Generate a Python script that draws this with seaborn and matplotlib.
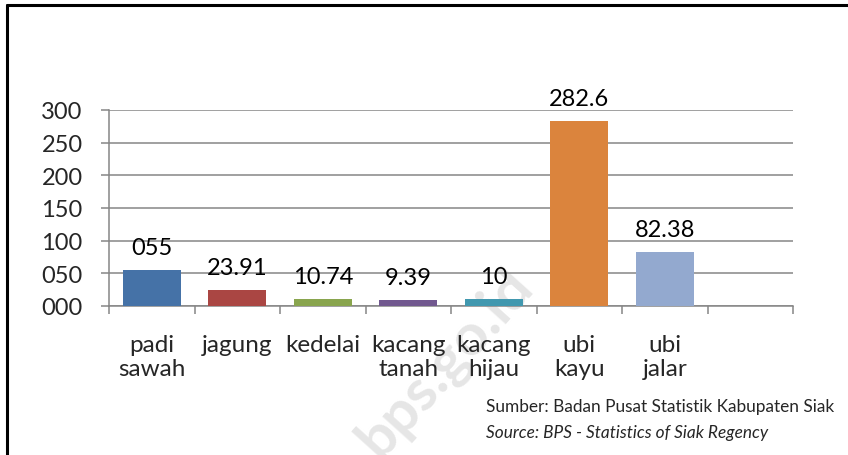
import pandas as pd
import seaborn as sns
import matplotlib.pyplot as plt
from matplotlib.ticker import FixedLocator

# data
crops = ['padi\nsawah', 'jagung', 'kedelai', 'kacang\ntanah', 'kacang\nhijau', 'ubi\nkayu', 'ubi\njalar']
values = [55, 23.91, 10.74, 9.39, 10, 282.6, 82.38]
value_labels = ['055', '23.91', '10.74', '9.39', '10', '282.6', '82.38']
colors = ['#4572A7', '#AA4643', '#89A54E', '#71588F', '#4198AF', '#DB843D', '#93A9CF']
y_ticks = [0, 50, 100, 150, 200, 250, 300]

df = pd.DataFrame({'crop': crops, 'value': values})

sns.set_style('white')
plt.rcParams['font.family'] = ['Lato', 'DejaVu Sans']

fig = plt.figure(figsize=(8.48, 4.56), dpi=100)
ax = fig.add_axes([109 / 848, 149 / 456, 684 / 848, 196 / 456])
ax.patch.set_alpha(0)

# watermark, behind the axes
fig.text(0.525, 0.205, 'bps.go.id', rotation=48, fontsize=42, fontweight='bold',
         color='#e6e6e6', ha='center', va='center', zorder=-5)

sns.barplot(data=df, x='crop', y='value', hue='crop', palette=colors, legend=False,
            width=0.68, saturation=1, linewidth=0, edgecolor='none', ax=ax, zorder=3)

for i, (v, lab) in enumerate(zip(values, value_labels)):
    ax.annotate(lab, (i, v), xytext=(0, 12), textcoords='offset pixels',
                ha='center', va='bottom', fontsize=17, color='black', zorder=4)

ax.set_xlim(-0.5, 7.5)
ax.set_ylim(0, 300)
ax.set_yticks(y_ticks)
ax.set_yticklabels([f'{t:03d}' for t in y_ticks], fontsize=17)
ax.yaxis.grid(True, color='#868686', linewidth=1.1)
ax.set_axisbelow(True)

ax.xaxis.set_minor_locator(FixedLocator([i - 0.5 for i in range(9)]))
ax.tick_params(axis='x', which='major', length=0, pad=20, labelsize=17.5)
ax.tick_params(axis='x', which='minor', length=6, width=1.1, color='#868686', bottom=True)
ax.tick_params(axis='y', length=6, width=1.1, color='#868686', left=True, pad=13)
ax.set_xlabel('')
ax.set_ylabel('')

for s in ['top', 'right']:
    ax.spines[s].set_visible(False)
for s in ['left', 'bottom']:
    ax.spines[s].set_color('#868686')
    ax.spines[s].set_linewidth(1.1)

fig.text(486 / 848, 1 - 407 / 456, 'Sumber: Badan Pusat Statistik Kabupaten Siak',
         fontsize=12.4, ha='left', va='center')
fig.text(486 / 848, 1 - 433 / 456, 'Source: BPS - Statistics of Siak Regency',
         fontsize=12.4, style='italic', ha='left', va='center')

# outer frame, only left and top edges show in the picture
fig.add_artist(plt.Line2D([7 / 848, 7 / 848], [0, 1 - 6 / 456], transform=fig.transFigure, color='black', linewidth=2.2))
fig.add_artist(plt.Line2D([7 / 848, 1], [1 - 6 / 456, 1 - 6 / 456], transform=fig.transFigure, color='black', linewidth=2.2))

fig.savefig('out.png', dpi=100)
